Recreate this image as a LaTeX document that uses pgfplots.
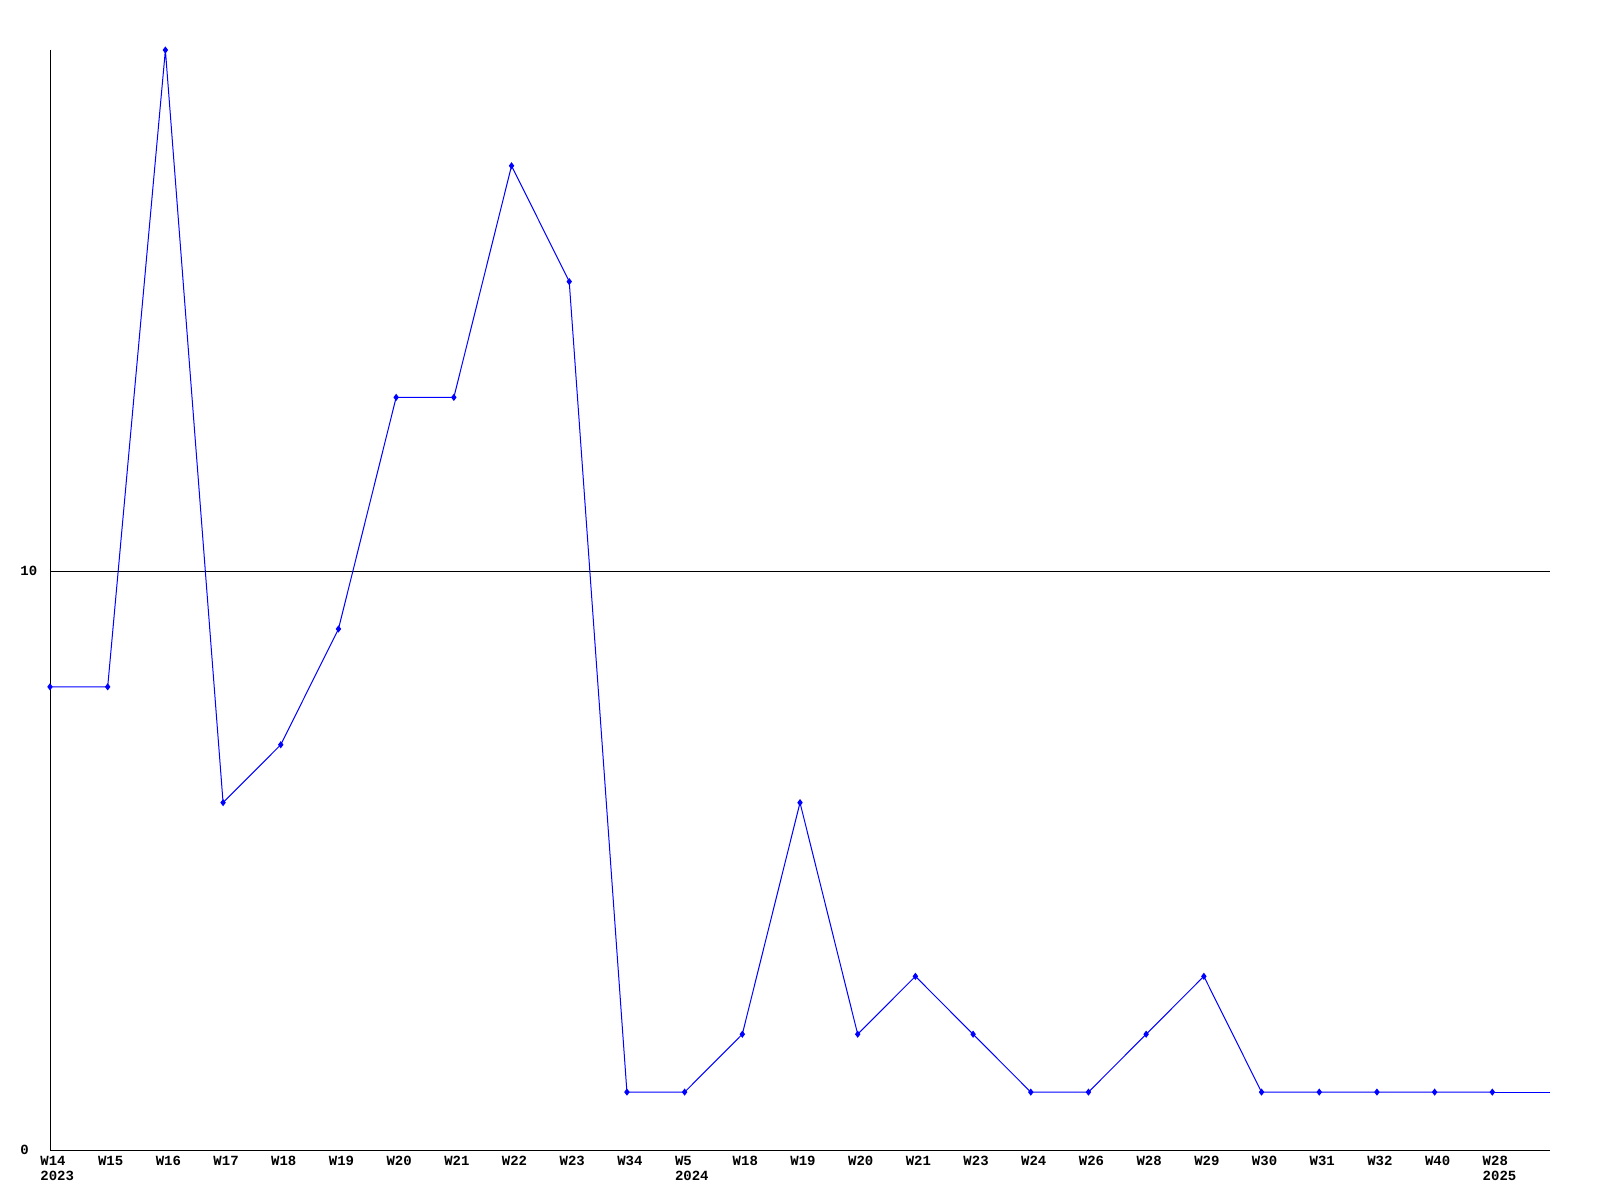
\documentclass[border=0pt]{standalone}
\usepackage{pgfplots}
\pgfplotsset{compat=1.18}
\usepackage{fontspec}
\setmainfont{Liberation Mono}
\begin{document}
\begin{tikzpicture}
\useasboundingbox (0,0) rectangle (800pt,600pt);
\begin{axis}[
  at={(25pt,25pt)}, anchor=south west,
  scale only axis, width=750pt, height=550pt,
  xmin=0, xmax=26, ymin=0, ymax=19,
  axis lines=left, axis line style={-, black, line width=0.5pt},
  major tick length=0pt,
  ytick={0,10}, yticklabels={0,10},
  ymajorgrids, grid style={black, line width=0.5pt},
  xtick={0,...,25},
  xticklabels={{W14\\2023},W15,W16,W17,W18,W19,W20,W21,W22,W23,W34,{W5\\2024},W18,W19,W20,W21,W23,W24,W26,W28,W29,W30,W31,W32,W40,{W28\\2025}},
  xticklabel style={anchor=north west, align=left, xshift=-5pt, yshift=-3pt, inner sep=0pt, font=\bfseries\fontsize{7}{7.5}\selectfont},
  yticklabel style={anchor=west, xshift=-15pt, inner sep=0pt, font=\bfseries\fontsize{7}{7.5}\selectfont},
  /pgf/number format/assume math mode=true,
  clip=false,
]
\addplot[blue, line width=0.5pt, mark=diamond*, mark size=1.4pt] coordinates {
(0,8)(1,8)(2,19)(3,6)(4,7)(5,9)(6,13)(7,13)(8,17)(9,15)(10,1)(11,1)(12,2)(13,6)(14,2)(15,3)(16,2)(17,1)(18,1)(19,2)(20,3)(21,1)(22,1)(23,1)(24,1)(25,1)
};
\addplot[blue, line width=0.5pt, mark=none] coordinates {(25,1)(26,1)};
\end{axis}
\end{tikzpicture}
\end{document}
